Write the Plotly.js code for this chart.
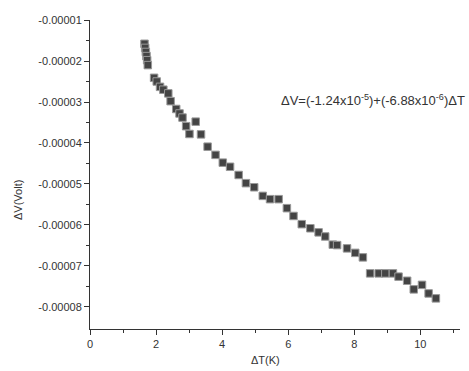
<!DOCTYPE html>
<html><head><meta charset="utf-8">
<script src="https://cdn.plot.ly/plotly-3.0.1.min.js"></script>
<style>body{margin:0;background:#fff}#c{width:469px;height:371px}</style>
</head><body><div id="c"></div>
<script>
const dT = [1.65,1.67,1.69,1.71,1.73,1.75,1.94,2.02,2.12,2.22,2.37,2.44,2.61,2.71,2.80,2.91,3.20,3.01,3.36,3.56,3.80,4.02,4.24,4.50,4.72,4.97,5.23,5.45,5.71,5.96,6.16,6.41,6.67,6.92,7.12,7.35,7.48,7.78,8.03,8.26,8.48,8.74,8.94,9.17,9.34,9.60,9.80,10.05,10.25,10.47];
const dV = [-1.58e-5,-1.68e-5,-1.78e-5,-1.88e-5,-1.98e-5,-2.10e-5,-2.41e-5,-2.50e-5,-2.63e-5,-2.70e-5,-2.79e-5,-2.98e-5,-3.17e-5,-3.28e-5,-3.38e-5,-3.59e-5,-3.48e-5,-3.78e-5,-3.79e-5,-4.09e-5,-4.29e-5,-4.48e-5,-4.58e-5,-4.78e-5,-4.98e-5,-5.08e-5,-5.29e-5,-5.37e-5,-5.37e-5,-5.59e-5,-5.78e-5,-5.98e-5,-6.08e-5,-6.18e-5,-6.28e-5,-6.48e-5,-6.49e-5,-6.57e-5,-6.68e-5,-6.79e-5,-7.18e-5,-7.18e-5,-7.18e-5,-7.18e-5,-7.26e-5,-7.36e-5,-7.57e-5,-7.46e-5,-7.67e-5,-7.79e-5];
const yTickVals = [-1e-5,-2e-5,-3e-5,-4e-5,-5e-5,-6e-5,-7e-5,-8e-5];
const yTickText = ['-0.00001','-0.00002','-0.00003','-0.00004','-0.00005','-0.00006','-0.00007','-0.00008'];
const xTickVals = [0,2,4,6,8,10];
const xTickText = ['0','2','4','6','8','10'];
const fitText = 'ΔV=(-1.24x10<sup>-5</sup>)+(-6.88x10<sup>-6</sup>)ΔT';

const trace = {x: dT, y: dV, mode:'markers', type:'scatter',
  marker:{symbol:'square', size:7.5, color:'#444', line:{color:'#999', width:1}}};
const font = {family:'Liberation Sans, Arial, sans-serif', size:11, color:'#333'};
const layout = {
  width:469, height:371, margin:{l:90,r:9,t:20,b:42},
  paper_bgcolor:'#fff', plot_bgcolor:'#fff', showlegend:false, font:font,
  xaxis:{range:[0,11.2], tickvals:xTickVals, ticktext:xTickText, ticks:'outside', ticklen:5, tickcolor:'#333',
    showline:true, linecolor:'#333', linewidth:1, showgrid:false, zeroline:false,
    minor:{tickvals:[1,3,5,7,9,11], ticks:'outside', ticklen:3, tickcolor:'#333'}},
  yaxis:{range:[-8.537e-5,-1e-5], tickvals:yTickVals, ticktext:yTickText, ticks:'outside', ticklen:5, tickcolor:'#333',
    showline:true, linecolor:'#333', linewidth:1, showgrid:false, zeroline:false,
    minor:{tickvals:[-1.5e-5,-2.5e-5,-3.5e-5,-4.5e-5,-5.5e-5,-6.5e-5,-7.5e-5], ticks:'outside', ticklen:3, tickcolor:'#333'}},
  annotations:[
    {xref:'paper', yref:'paper', x:1.02, y:0.74, xanchor:'right', yanchor:'middle', text:fitText, showarrow:false,
     font:{family:'Liberation Sans, Arial, sans-serif', size:13, color:'#333'}},
    {xref:'paper', yref:'paper', x:0.473, y:-0.075, xanchor:'center', yanchor:'top', text:'ΔT(K)', showarrow:false,
     font:{family:'Liberation Sans, Arial, sans-serif', size:11, color:'#333'}},
    {xref:'paper', yref:'paper', x:-0.195, y:0.417, xanchor:'center', yanchor:'middle', textangle:-90, text:'ΔV(Volt)', showarrow:false,
     font:{family:'Liberation Sans, Arial, sans-serif', size:11, color:'#333'}}
  ]
};
Plotly.newPlot('c',[trace],layout,{displayModeBar:false, staticPlot:true});
</script></body></html>
